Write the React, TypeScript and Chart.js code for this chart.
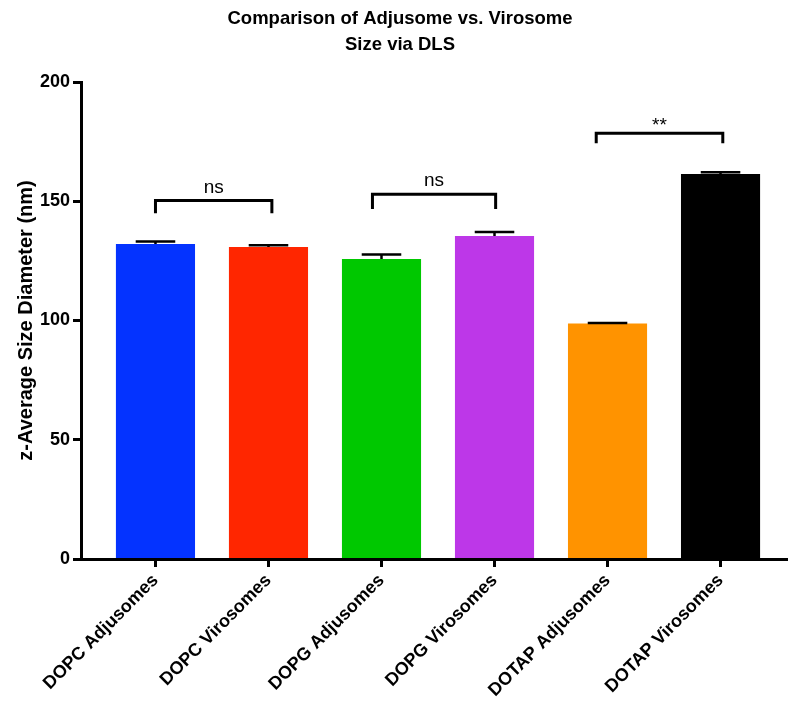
import { useEffect, useRef } from 'react';
import { Chart, registerables } from 'chart.js';

Chart.register(...registerables);

// Dynamic light scattering: z-average diameter per formulation
const categories = [
  'DOPC Adjusomes',
  'DOPC Virosomes',
  'DOPG Adjusomes',
  'DOPG Virosomes',
  'DOTAP Adjusomes',
  'DOTAP Virosomes',
];
const meanSize = [132.1, 130.8, 125.8, 135.4, 98.7, 161.4];
const semSize = [1.0, 0.8, 1.9, 1.7, 0.3, 0.8];
const barColors = ['#0433FF', '#FF2600', '#00C800', '#BD37E8', '#FF9300', '#000000'];
const yTickValues = [0, 50, 100, 150, 200];

// Significance brackets (category positions and y values in nm)
const bracketFrom = [0, 1.92, 3.9];
const bracketTo = [1.03, 3.01, 5.02];
const bracketTop = [150.3, 152.9, 178.5];
const bracketFoot = [145.0, 146.7, 174.3];
const bracketLabel = ['ns', 'ns', '**'];

const FONT = '"Liberation Sans", Arial, Helvetica, sans-serif';

const errorBarPlugin = {
  id: 'errorBars',
  afterDatasetsDraw(chart: any) {
    const { ctx } = chart;
    const x = chart.scales.x;
    const y = chart.scales.y;
    const meta = chart.getDatasetMeta(0);
    ctx.save();
    ctx.strokeStyle = '#000';
    ctx.lineWidth = 2.5;
    meanSize.forEach((m, i) => {
      const px = x.getPixelForValue(i);
      const yMean = y.getPixelForValue(m);
      const yHi = y.getPixelForValue(m + semSize[i]);
      const half = (meta.data[i] as any).width / 4;
      ctx.beginPath();
      ctx.moveTo(px, yMean);
      ctx.lineTo(px, yHi);
      ctx.moveTo(px - half, yHi);
      ctx.lineTo(px + half, yHi);
      ctx.stroke();
    });
    ctx.restore();
  },
};

const bracketPlugin = {
  id: 'sigBrackets',
  afterDatasetsDraw(chart: any) {
    const { ctx } = chart;
    const x = chart.scales.x;
    const y = chart.scales.y;
    ctx.save();
    ctx.strokeStyle = '#000';
    ctx.fillStyle = '#000';
    ctx.lineWidth = 3;
    ctx.lineJoin = 'miter';
    ctx.font = `19px ${FONT}`;
    ctx.textAlign = 'center';
    ctx.textBaseline = 'alphabetic';
    bracketLabel.forEach((label, i) => {
      const x1 = x.getPixelForValue(bracketFrom[i]);
      const x2 = x.getPixelForValue(bracketTo[i]);
      const yt = y.getPixelForValue(bracketTop[i]);
      const yf = y.getPixelForValue(bracketFoot[i]);
      ctx.beginPath();
      ctx.moveTo(x1, yf);
      ctx.lineTo(x1, yt);
      ctx.lineTo(x2, yt);
      ctx.lineTo(x2, yf);
      ctx.stroke();
      const m = ctx.measureText(label);
      const descent = m.actualBoundingBoxDescent || 0;
      ctx.fillText(label, (x1 + x2) / 2, yt - 8 - descent);
    });
    ctx.restore();
  },
};

export default function App() {
  const canvasRef = useRef<HTMLCanvasElement | null>(null);

  useEffect(() => {
    if (!canvasRef.current) return;
    Chart.defaults.font.family = FONT;
    Chart.defaults.color = '#000';

    const chart = new Chart(canvasRef.current, {
      type: 'bar',
      data: {
        datasets: [
          {
            data: meanSize.map((v, i) => ({ x: i, y: v })),
            backgroundColor: barColors,
            borderWidth: 0,
            barPercentage: 0.7,
            categoryPercentage: 1,
          },
        ],
      },
      options: {
        responsive: false,
        animation: false,
        events: [],
        layout: { padding: { left: 12, right: 0, top: 0, bottom: 0 } },
        plugins: {
          legend: { display: false },
          tooltip: { enabled: false },
          title: {
            display: true,
            text: ['Comparison of Adjusome vs. Virosome', 'Size via DLS'],
            color: '#000',
            font: { size: 18.5, weight: 'bold', family: FONT, lineHeight: 1.4 },
            padding: { top: 6, bottom: 24.2 },
          },
        },
        scales: {
          x: {
            type: 'linear',
            offset: false,
            min: -0.659,
            max: 5.597,
            afterBuildTicks: (scale: any) => {
              scale.ticks = categories.map((_, i) => ({ value: i }));
            },
            afterFit: (scale: any) => {
              scale.height = 143;
            },
            ticks: {
              autoSkip: false,
              minRotation: 45,
              maxRotation: 45,
              padding: 3,
              color: '#000',
              font: { size: 18, weight: 'bold', family: FONT },
              callback: (v: any) => categories[Math.round(Number(v))] ?? '',
            },
            grid: {
              display: true,
              offset: false,
              drawOnChartArea: false,
              drawTicks: true,
              tickLength: 8,
              tickWidth: 3,
              tickColor: '#000',
            },
            border: { display: true, color: '#000', width: 3, z: 1 },
          },
          y: {
            type: 'linear',
            min: 0,
            max: 200,
            afterBuildTicks: (scale: any) => {
              scale.ticks = yTickValues.map((v) => ({ value: v }));
            },
            afterFit: (scale: any) => {
              scale.width = 69;
            },
            ticks: {
              padding: 3,
              color: '#000',
              font: { size: 18, weight: 'bold', family: FONT },
            },
            grid: {
              display: true,
              drawOnChartArea: false,
              drawTicks: true,
              tickLength: 8,
              tickWidth: 3,
              tickColor: '#000',
            },
            border: { display: true, color: '#000', width: 3, z: 1 },
            title: {
              display: true,
              text: 'z-Average Size Diameter (nm)',
              color: '#000',
              font: { size: 20, weight: 'bold', family: FONT },
              padding: { top: 2, bottom: 0 },
            },
          },
        },
      },
      plugins: [errorBarPlugin, bracketPlugin],
    } as any);

    return () => chart.destroy();
  }, []);

  return (
    <div style={{ position: 'absolute', left: 0, top: 0, width: 788, height: 702, background: '#fff' }}>
      <canvas ref={canvasRef} width={788} height={702} style={{ display: 'block' }} />
    </div>
  );
}
